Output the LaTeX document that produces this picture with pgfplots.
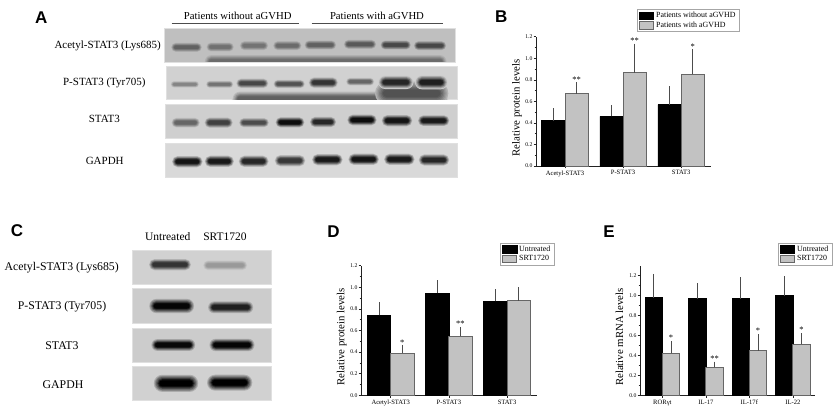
\documentclass[border=0pt]{standalone}
\usepackage{fontspec}
\setmainfont{Liberation Serif}
\newfontfamily\panelfont{Liberation Sans}
\usepackage{pgfplots}
\pgfplotsset{compat=1.18}
\definecolor{barg}{HTML}{C2C2C2}
\definecolor{edgeg}{HTML}{666666}
\definecolor{axg}{HTML}{222222}
% \bandz{w}{cy}{xleft}{h}{dark}{bg} -- in zoomed px (3x)
\newcommand{\bandz}[6]{\foreach \i in {0,...,7}{%
  \pgfmathsetmacro\ii{\i/7}%
  \pgfmathsetmacro\mix{#6+(#5-#6)*min(1,\ii*1.25)}%
  \pgfmathsetmacro\ins{\ii*#4/6*.8}%
  \pgfmathsetmacro\rr{#4/6-\ins}%
  \fill[black!\mix!white,rounded corners=\rr pt] ({#3/3+\ins},{#2/3-#4/6+\ins}) rectangle ({#3/3+#1/3-\ins},{#2/3+#4/6-\ins});}}
\newcommand{\blot}[5]{\fill[black!#5!white] (#1,#2) rectangle (#3,#4);\draw[black!12,line width=.4pt] (#1,#2) rectangle (#3,#4);}
\pgfplotsset{
  panel/.style={
    scale only axis, axis lines=left, axis line style={-,line width=.8pt,color=axg},
    tick align=outside, tick style={color=axg,line width=.6pt},
    major tick length=2.4pt, minor tick length=1.3pt,
    ymin=0, ytick={0,0.2,0.4,0.6,0.8,1.0,1.2}, minor y tick num=1,
    xtick=data, ybar=0pt, clip=false,
    x tick label style={font=\fontsize{6.6}{7}\selectfont,inner sep=1pt,yshift=-1pt},
    y tick label style={font=\fontsize{5.7}{6}\selectfont,inner sep=1pt},
    yticklabel style={/pgf/number format/.cd,fixed,fixed zerofill,precision=1,assume math mode=true},
    ylabel style={font=\fontsize{10.8}{12}\selectfont,inner sep=0pt},
    legend cell align=left,
    legend style={draw=black!35,line width=.7pt,font=\fontsize{7.9}{8.5}\selectfont,inner xsep=1.8pt,inner ysep=.4pt,row sep=-1pt,anchor=north west},
    legend image code/.code={\fill[##1] (0pt,-3.6pt) rectangle (14.4pt,3.6pt);\draw[##1] (0pt,-3.6pt) rectangle (14.4pt,3.6pt);},
  },
  blk/.style={fill=black,draw=black,line width=.5pt},
  gry/.style={fill=barg,draw=edgeg,line width=.9pt},
  errs/.style={error bars/.cd,y dir=plus,y explicit,error mark=-,error bar style={color=black!70,line width=.9pt},error mark options={mark size=1.2pt,color=black!70,line width=.9pt}},
}
\newcommand{\st}[3]{\node[font=\fontsize{8.5}{9}\selectfont,inner sep=0pt,anchor=center] at (axis cs:#1,#2) {#3};}
\begin{document}
\begin{tikzpicture}
\useasboundingbox (0,0) rectangle (835pt,-410pt);
\fill[white] (0,0) rectangle (835pt,-410pt);
\begin{scope}[x=1pt,y=-1pt]
% Panel letters
\foreach \l/\x/\y in {A/41.3/18,B/501.3/17,C/17/231,D/333.5/231.7,E/609/231.7}
  \node[font=\panelfont\bfseries\fontsize{17}{18}\selectfont,inner sep=0pt] at (\x,\y) {\l};
% Panel A
\node[font=\fontsize{10.7}{11}\selectfont,inner sep=0pt] at (237.7,15.7) {Patients without aGVHD};
\node[font=\fontsize{10.7}{11}\selectfont,inner sep=0pt] at (377,15.7) {Patients with aGVHD};
\draw[black!70,line width=.7pt] (171.7,23) -- (299.3,23) (311.7,23) -- (443.3,23);
\foreach \t/\x/\y in {Acetyl-STAT3 (Lys685)/107.7/46,P-STAT3 (Tyr705)/104.3/82.7,STAT3/104.3/119.3,GAPDH/104.7/160.7}
  \node[font=\fontsize{11}{12}\selectfont,inner sep=0pt] at (\x,\y) {\t};
\blot{164}{28.3}{455.3}{61.7}{25}
\begin{scope}\clip (164,28.3) rectangle (455.3,61.7);
\bandz{730}{185}{612}{44}{58}{25}
\end{scope}
\blot{166}{65.7}{456.7}{99}{18}
\begin{scope}\clip (166,65.7) rectangle (456.7,99);
\bandz{650}{297}{695}{50}{62}{18}
\bandz{220}{280}{1125}{70}{68}{30}
\end{scope}
\blot{165}{104}{456.7}{138}{19}
\blot{165}{143.3}{457}{177.3}{15}
\foreach \c/\z/\w/\s in {512/142/95/62,618/141/85/56,718/137/88/55,818/137/88/58,912/135/98/62,1030/133/100/65,1140/135/94/72,1240/137/100/72}
  {\bandz{\w}{\z}{\c}{30}{\s}{25}}
\foreach \c/\z/\w/\h/\s in {512/253/85/20/48,618/253/82/22/55,708/250/98/30/72,820/252/95/26/68,925/248/90/34/80,1038/245/85/24/60,1135/247/105/40/85,1245/247/98/42/88}
  {\bandz{\w}{\z}{\c}{\h}{\s}{20}}
\foreach \c/\z/\w/\h/\s in {513/368/88/32/60,612/368/88/34/75,716/368/92/30/70,825/367/90/34/95,928/366/82/34/85,1040/360/92/36/95,1143/362/96/38/92,1252/362/98/36/90}
  {\bandz{\w}{\z}{\c}{\h}{\s}{19}}
\foreach \c/\z/\w/\s in {514/485/96/92,612/484/92/90,714/484/94/85,822/482/96/78,934/479/96/90,1043/478/96/92,1150/478/96/90,1254/480/96/85}
  {\bandz{\w}{\z}{\c}{38}{\s}{15}}
% Panel C
\node[font=\fontsize{11.5}{12}\selectfont,inner sep=0pt] at (167.7,236.7) {Untreated};
\node[font=\fontsize{11.5}{12}\selectfont,inner sep=0pt] at (225,236.7) {SRT1720};
\foreach \t/\x/\y in {Acetyl-STAT3 (Lys685)/61.7/267.3,P-STAT3 (Tyr705)/62/306.7,STAT3/62/346,GAPDH/63/385}
  \node[font=\fontsize{11.8}{13}\selectfont,inner sep=0pt] at (\x,\y) {\t};
\blot{132.3}{250}{271}{283.7}{18}
\blot{132.3}{288.3}{271}{323.3}{20}
\blot{132.3}{328}{271}{361.7}{20}
\blot{132.3}{366.3}{271}{400}{18}
\begin{scope}[yshift=-210pt]
\bandz{130}{164}{445}{38}{80}{18}
\bandz{135}{166}{608}{32}{40}{18}
\bandz{140}{288}{445}{48}{98}{20}
\bandz{140}{292}{622}{40}{88}{20}
\bandz{136}{405}{452}{40}{97}{20}
\bandz{140}{405}{626}{42}{98}{20}
\bandz{140}{520}{458}{58}{100}{18}
\bandz{142}{518}{618}{54}{100}{18}
\end{scope}
\end{scope}
% Panel B
\begin{axis}[panel,at={(536pt,-166pt)},anchor=south west,width=174.7pt,height=129.3pt,
  xmin=-0.5,xmax=2.51,ymax=1.2,bar width=23.3pt,ylabel={Relative protein levels},
  ylabel style={at={(axis description cs:-0.08,0.45)}},
  xticklabels={Acetyl-STAT3,P-STAT3,STAT3},
  legend style={at={(axis description cs:0.5764,1.212)}}]
\addplot[blk,errs] coordinates {(0,0.42) +- (0,0.105) (1,0.46) +- (0,0.095) (2,0.57) +- (0,0.16)};
\addplot[gry,errs] coordinates {(0,0.67) +- (0,0.095) (1,0.865) +- (0,0.26) (2,0.85) +- (0,0.225)};
\legend{Patients without aGVHD,Patients with aGVHD}
\st{0.2}{0.8}{**}\st{1.2}{1.16}{**}\st{2.2}{1.11}{*}
\end{axis}
% Panel D
\begin{axis}[panel,at={(361pt,-395.3pt)},anchor=south west,width=175.7pt,height=129.6pt,
  xmin=-0.51,xmax=2.51,ymax=1.2,bar width=23.3pt,ylabel={Relative protein levels},
  ylabel style={at={(axis description cs:-0.08,0.45)}},
  xticklabels={Acetyl-STAT3,P-STAT3,STAT3},
  legend style={at={(axis description cs:0.7897,1.1752)}}]
\addplot[blk,errs] coordinates {(0,0.74) +- (0,0.11) (1,0.945) +- (0,0.11) (2,0.87) +- (0,0.10)};
\addplot[gry,errs] coordinates {(0,0.39) +- (0,0.065) (1,0.545) +- (0,0.075) (2,0.875) +- (0,0.115)};
\legend{Untreated,SRT1720}
\st{0.2}{0.49}{*}\st{1.2}{0.66}{**}
\end{axis}
% Panel E
\begin{axis}[panel,at={(640pt,-395.3pt)},anchor=south west,width=175pt,height=129.6pt,
  xmin=-0.515,xmax=3.51,ymax=1.3,bar width=17.3pt,ylabel={Relative mRNA levels},
  ylabel style={at={(axis description cs:-0.095,0.45)}},
  xticklabels={RORγt,IL-17,IL-17f,IL-22},
  legend style={at={(axis description cs:0.7869,1.1752)}}]
\addplot[blk,errs] coordinates {(0,0.98) +- (0,0.225) (1,0.97) +- (0,0.14) (2,0.97) +- (0,0.20) (3,1.0) +- (0,0.18)};
\addplot[gry,errs] coordinates {(0,0.42) +- (0,0.11) (1,0.28) +- (0,0.045) (2,0.445) +- (0,0.155) (3,0.51) +- (0,0.10)};
\legend{Untreated,SRT1720}
\st{0.2}{0.58}{*}\st{1.2}{0.37}{**}\st{2.2}{0.65}{*}\st{3.2}{0.66}{*}
\end{axis}
\end{tikzpicture}
\end{document}
